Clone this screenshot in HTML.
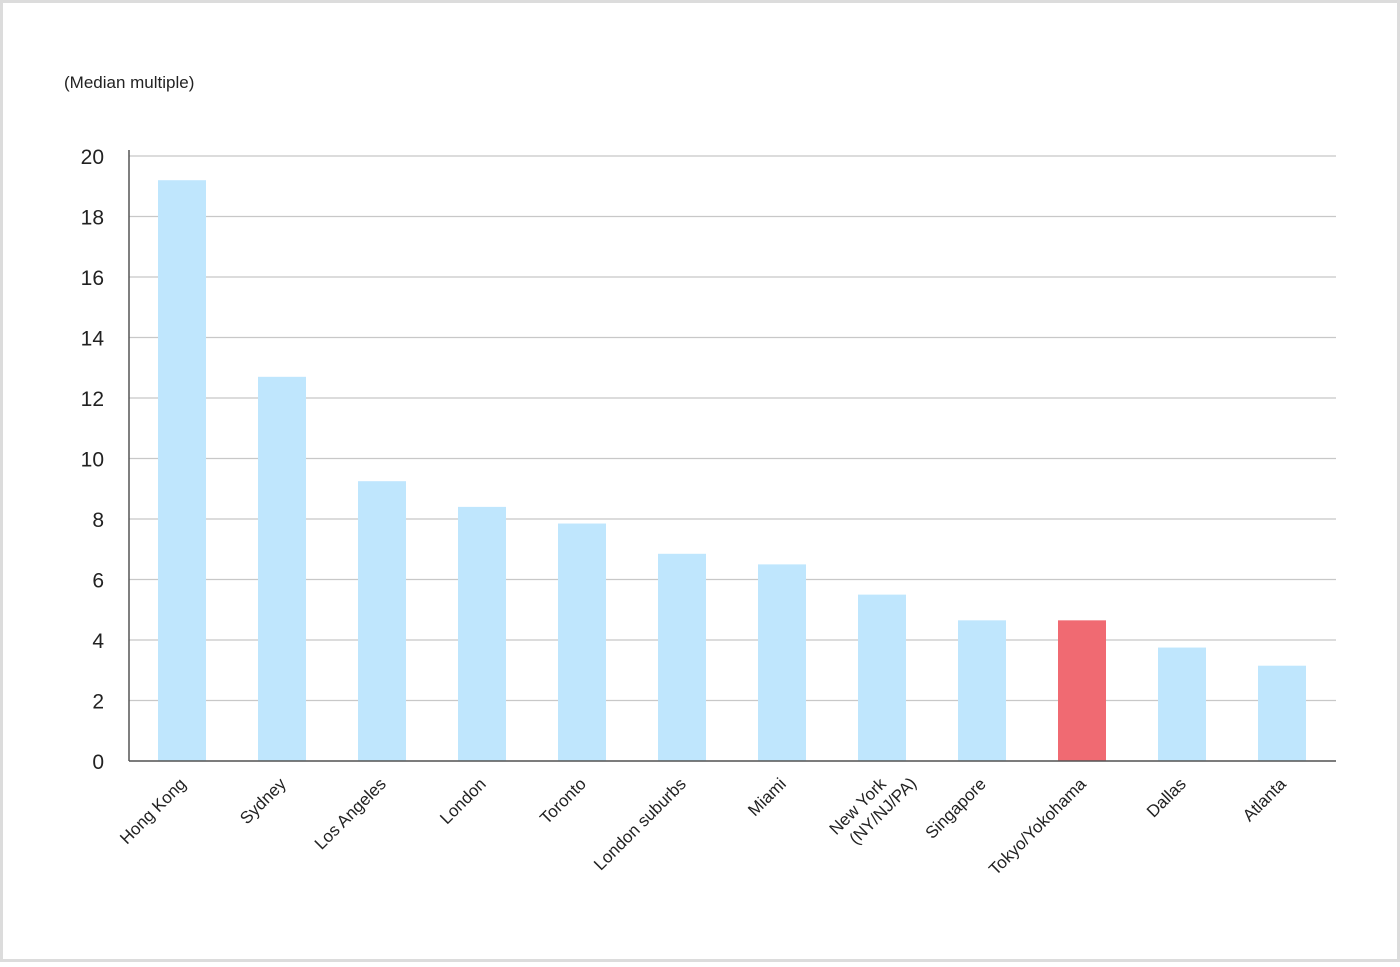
<!DOCTYPE html>
<html><head><meta charset="utf-8"><style>
html,body{margin:0;padding:0;background:#fff;}
body{width:1400px;height:962px;overflow:hidden;}
svg text{font-family:"Liberation Sans",Arial,sans-serif;fill:#222;}
</style></head><body>
<svg width="1400" height="962" xmlns="http://www.w3.org/2000/svg">
<rect x="1.5" y="1.5" width="1397" height="959" fill="#fff" stroke="#dcdcdc" stroke-width="3"/>
<text x="64" y="88" font-size="17">(Median multiple)</text>
<g id="grid"></g><g id="bars"></g><g id="xl"></g>
<line x1="129" y1="150" x2="129" y2="761" stroke="#555" stroke-width="1.5"/>
<line x1="129" y1="761" x2="1336" y2="761" stroke="#555" stroke-width="1.5"/>
</svg>
<script>
const categories=["Hong Kong","Sydney","Los Angeles","London","Toronto","London suburbs","Miami","New York|(NY/NJ/PA)","Singapore","Tokyo/Yokohama","Dallas","Atlanta"];
const values=[19.2,12.7,9.25,8.4,7.85,6.85,6.5,5.5,4.65,4.65,3.75,3.15];
const highlight=[false,false,false,false,false,false,false,false,false,true,false,false];
const yTicks=[0,2,4,6,8,10,12,14,16,18,20];
const NS="http://www.w3.org/2000/svg";
const y=v=>761-v*30.25;
const xc=i=>182+i*100;
const grid=document.getElementById('grid'),bars=document.getElementById('bars'),xl=document.getElementById('xl');
function mk(t,a){const e=document.createElementNS(NS,t);for(const k in a)e.setAttribute(k,a[k]);return e;}
yTicks.forEach(t=>{
  const l=mk('line',{x1:129,x2:1336,y1:y(t),y2:y(t),stroke:'#c8c8c8','stroke-width':1.3});
  
  
  grid.appendChild(l);
  const tx=mk('text',{x:104,y:y(t)+8,'text-anchor':'end','font-size':21});
  
  
  tx.textContent=t;grid.appendChild(tx);
});
values.forEach((v,i)=>{
  const r=mk('rect',{x:xc(i)-24,y:y(v),width:48,height:761-y(v),fill:highlight[i]?'#f06a72':'#bfe6fd'});
  
  
  bars.appendChild(r);
  const parts=categories[i].split('|');
  const ax=xc(i)+5,ay=785;
  const t=mk('text',{'text-anchor':'end','font-size':17,transform:`translate(${ax},${ay}) rotate(-45)`});
  
  
  parts.forEach((p,j)=>{const s=mk('tspan',{x:j?22:0,dy:j?21:0});s.textContent=p;t.appendChild(s);});
  xl.appendChild(t);
});
</script>
</body></html>
